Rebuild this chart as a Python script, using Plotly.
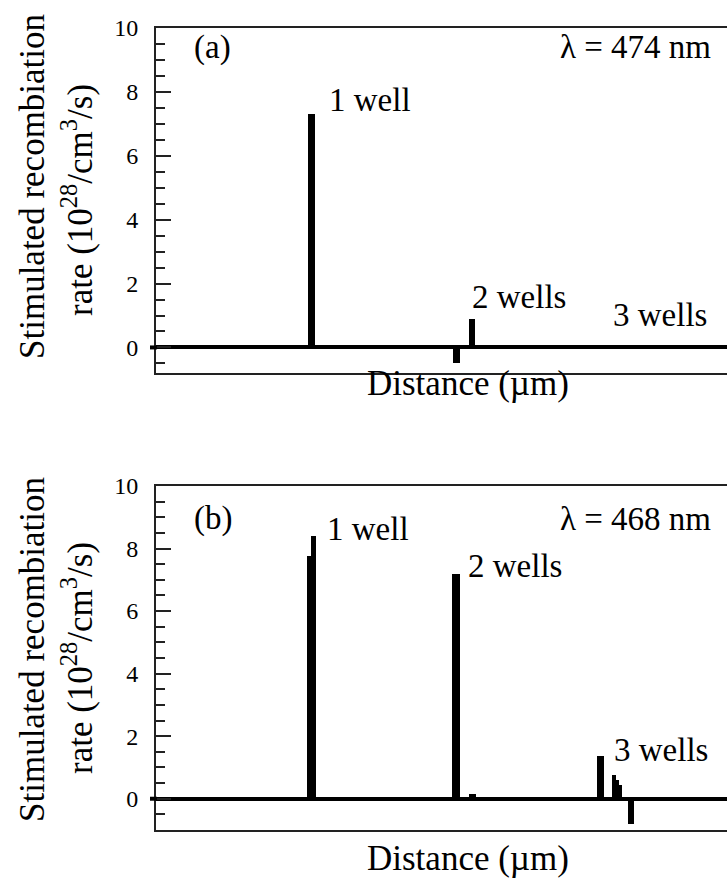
import plotly.graph_objects as go

# Stimulated recombination rate profiles across the active region (distance in nm)
# Each well segment: start, end (nm) and rate (10^28 /cm^3/s)
seg_start_a = [53.2, 104.0, 109.6]
seg_end_a = [55.7, 106.5, 111.7]
rate_a = [7.3, -0.5, 0.9]

seg_start_b = [52.9, 54.3, 103.7, 109.6, 154.5, 159.7, 161.0, 162.0, 165.3]
seg_end_b = [54.3, 56.0, 106.5, 112.1, 156.9, 161.0, 162.0, 163.2, 167.4]
rate_b = [7.75, 8.4, 7.2, 0.15, 1.38, 0.77, 0.6, 0.45, -0.8]

wavelength_a = "λ = 474 nm"
wavelength_b = "λ = 468 nm"
panel_tags = ["(a)", "(b)"]
well_labels = ["1 well", "2 wells", "3 wells"]
y_tick_vals = [0, 2, 4, 6, 8, 10]

FONT = "Liberation Serif, Times New Roman, serif"
W, H = 727, 880


def bars(starts, ends, rates, xa, ya):
    centers = [(s + e) / 2 for s, e in zip(starts, ends)]
    widths = [e - s for s, e in zip(starts, ends)]
    return go.Bar(x=centers, y=rates, width=widths, base=0,
                  marker=dict(color="black", line=dict(width=0)),
                  xaxis=xa, yaxis=ya, showlegend=False, hoverinfo="skip")


fig = go.Figure()
fig.add_trace(bars(seg_start_a, seg_end_a, rate_a, "x", "y"))
fig.add_trace(bars(seg_start_b, seg_end_b, rate_b, "x2", "y2"))

x_dom = [156 / W, 1.0]
top_dom = [1 - 373 / H, 1 - 28 / H]
bot_dom = [1 - 830 / H, 1 - 486 / H]

xcommon = dict(range=[0, 200], showline=True, mirror=True, linewidth=2,
               linecolor="#222", showticklabels=False, ticks="",
               showgrid=False, zeroline=False, domain=x_dom, fixedrange=True,
               automargin=False)
ycommon = dict(showline=True, mirror=False, linewidth=2, linecolor="#222",
               tickvals=y_tick_vals, ticks="inside", ticklen=15, tickwidth=2,
               tickcolor="#222",
               minor=dict(dtick=0.5, ticks="inside", ticklen=9, tickwidth=2,
                          tickcolor="#222", showgrid=False),
               tickfont=dict(family=FONT, size=24, color="black"),
               ticklabelstandoff=11,
               showgrid=False, zeroline=True, zerolinewidth=4,
               zerolinecolor="black", fixedrange=True, automargin=False)

fig.update_layout(
    template="none",
    width=W, height=H, autosize=False,
    margin=dict(l=0, r=0, t=0, b=0, pad=0),
    paper_bgcolor="white", plot_bgcolor="white",
    bargap=0,
    xaxis=dict(**xcommon, anchor="y"),
    yaxis=dict(**ycommon, range=[-0.8, 10], domain=top_dom, anchor="x"),
    xaxis2=dict(**xcommon, anchor="y2"),
    yaxis2=dict(**ycommon, range=[-1, 10], domain=bot_dom, anchor="x2"),
    font=dict(family=FONT, color="black"),
)

# short stub of the zero line poking out left of each y axis
shapes = []
for yr in ["y", "y2"]:
    shapes.append(dict(type="line", xref="paper", yref=yr,
                       x0=150 / W, x1=157 / W, y0=0, y1=0,
                       line=dict(color="black", width=4)))
fig.update_layout(shapes=shapes)

tf = dict(family=FONT, size=33, color="black")
tt = dict(family=FONT, size=35, color="black")
ann = []


def label(text, x, y, xr, yr, xanchor="left"):
    ann.append(dict(text=text, x=x, y=y, xref=xr, yref=yr, xanchor=xanchor,
                    yanchor="middle", showarrow=False, font=tf))


# panel (a)
label(panel_tags[0], 12.6, 9.4, "x", "y")
label(wavelength_a, 195.1, 9.4, "x", "y", "right")
label(well_labels[0], 59.9, 7.75, "x", "y")
label(well_labels[1], 110.0, 1.58, "x", "y")
label(well_labels[2], 159.4, 1.02, "x", "y")
# panel (b)
label(panel_tags[1], 12.6, 8.95, "x2", "y2")
label(wavelength_b, 195.1, 8.95, "x2", "y2", "right")
label(well_labels[0], 59.2, 8.62, "x2", "y2")
label(well_labels[1], 108.6, 7.44, "x2", "y2")
label(well_labels[2], 159.7, 1.56, "x2", "y2")

# axis titles
for yc1, yc2, yd in [(187, 200, 383), (650, 658, 858)]:
    ann.append(dict(text="Stimulated recombiation", x=32 / W, y=1 - yc1 / H,
                    xref="paper", yref="paper", textangle=-90,
                    xanchor="center", yanchor="middle", showarrow=False,
                    font=tt))
    ann.append(dict(text="rate (10<sup>28</sup>/cm<sup>3</sup>/s)",
                    x=77 / W, y=1 - yc2 / H,
                    xref="paper", yref="paper", textangle=-90,
                    xanchor="center", yanchor="middle", showarrow=False,
                    font=tt))
    ann.append(dict(text="Distance (µm)", x=468 / W, y=1 - yd / H,
                    xref="paper", yref="paper", xanchor="center",
                    yanchor="middle", showarrow=False, font=tt))

fig.update_layout(annotations=ann)
fig.write_html("out.html")
